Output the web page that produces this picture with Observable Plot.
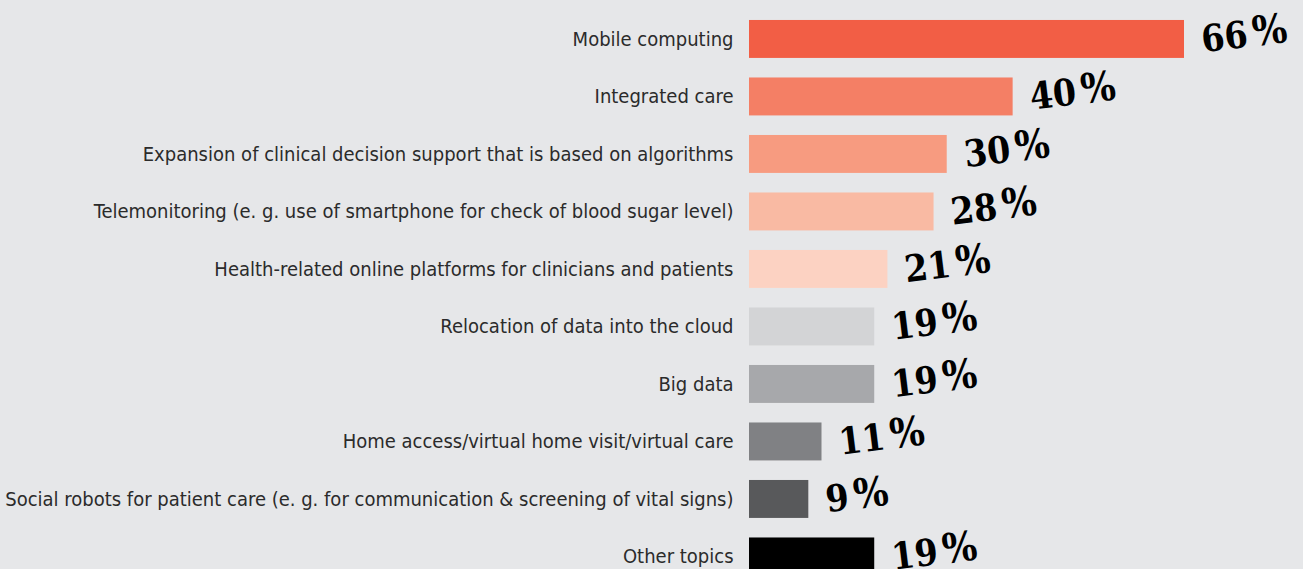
<!DOCTYPE html>
<html>
<head>
<meta charset="utf-8">
<script src="https://cdn.jsdelivr.net/npm/d3@7"></script>
<script src="https://cdn.jsdelivr.net/npm/@observablehq/plot@0.6"></script>
<style>
  html, body { margin: 0; padding: 0; background: #e6e7e9; }
  #chart svg { display: block; }
</style>
</head>
<body>
<div id="chart"></div>
<script>
const topics = [
  "Mobile computing",
  "Integrated care",
  "Expansion of clinical decision support that is based on algorithms",
  "Telemonitoring (e. g. use of smartphone for check of blood sugar level)",
  "Health-related online platforms for clinicians and patients",
  "Relocation of data into the cloud",
  "Big data",
  "Home access/virtual home visit/virtual care",
  "Social robots for patient care (e. g. for communication & screening of vital signs)",
  "Other topics"
];
const shares = [66, 40, 30, 28, 21, 19, 19, 11, 9, 19];
const colors = ["#f25e45", "#f47f65", "#f79b80", "#f9baa3", "#fcd2c2", "#d3d4d6", "#a7a8ab", "#808184", "#58595b", "#000000"];

const data = topics.map((t, i) => ({topic: t, share: shares[i], color: colors[i], label: String(shares[i])}));

const chart = Plot.plot({
  width: 1303,
  height: 569,
  marginLeft: 749,
  marginRight: 0,
  marginTop: 0,
  marginBottom: 0,
  style: {background: "#e6e7e9", fontFamily: "'DejaVu Sans Condensed', 'DejaVu Sans', sans-serif", overflow: "hidden"},
  x: {domain: [0, 66], range: [749, 1184], axis: null},
  y: {domain: topics, range: [10.2, 585.2], paddingInner: 0.34, paddingOuter: 0.17, round: false, label: null},
  color: {type: "identity"},
  marks: [
    Plot.barX(data, {y: "topic", x: "share", fill: "color"}),
    Plot.axisY({tickSize: 0, tickPadding: 16, fontSize: 20, fill: "#2b2b2b", label: null}),
    Plot.text(data, {
      y: "topic", x: "share", text: "label", textAnchor: "start", dx: 17, dy: 1,
      rotate: -7, fontSize: 37, fontWeight: "bold", fill: "#000",
      fontFamily: "'DejaVu Serif Condensed', 'DejaVu Serif', serif",
      className: "pct"
    })
  ]
});
document.getElementById("chart").appendChild(chart);
// append a slightly larger percent sign to each value label
d3.select(chart).selectAll("g.pct text").each(function() {
  d3.select(this).append("tspan").attr("dx", 5).attr("font-size", "1.1em").text("%");
});
</script>
</body>
</html>
